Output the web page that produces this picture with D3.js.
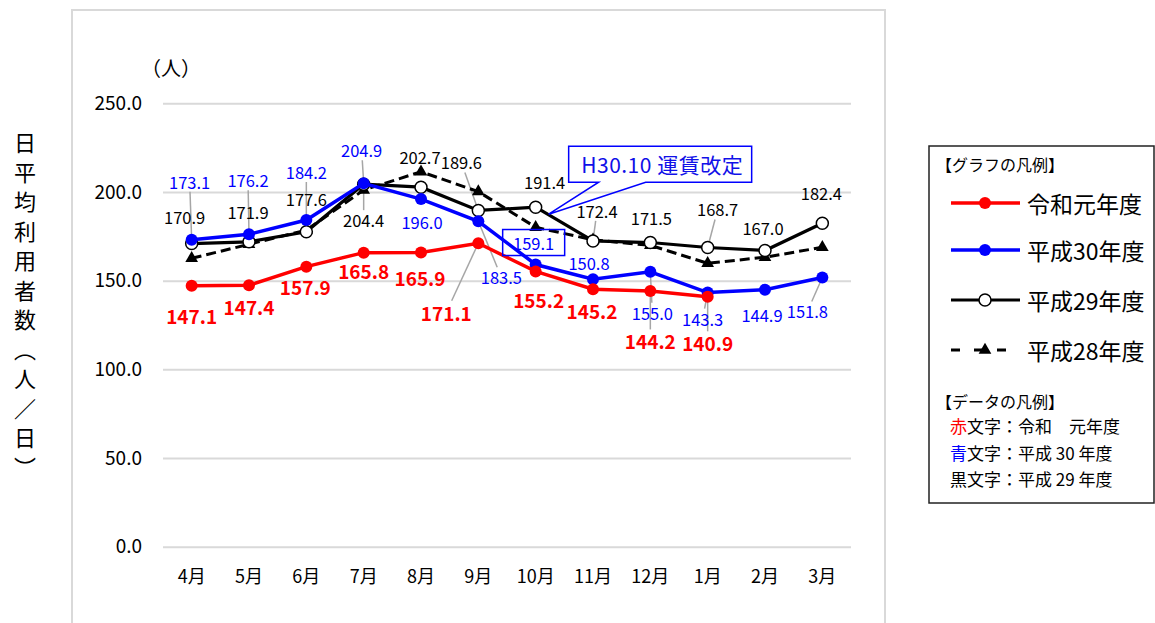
<!DOCTYPE html>
<html>
<head>
<meta charset="utf-8">
<script src="https://cdn.jsdelivr.net/npm/d3@7"></script>
<style>
    body { margin: 0; background: #fff; }
    svg text { font-family: "Noto Sans CJK JP", "Noto Sans", sans-serif; }
</style>
</head>
<body>
<div id="chart"></div>
<script>

// categories and values
const months = ["4月", "5月", "6月", "7月", "8月", "9月", "10月", "11月", "12月", "1月", "2月", "3月"];
const yTicks = [0, 50, 100, 150, 200, 250];

const valuesR1  = [147.1, 147.4, 157.9, 165.8, 165.9, 171.1, 155.2, 145.2, 144.2, 140.9];
const valuesH30 = [173.1, 176.2, 184.2, 204.9, 196.0, 183.5, 159.1, 150.8, 155.0, 143.3, 144.9, 151.8];
const valuesH29 = [170.9, 171.9, 177.6, 204.4, 202.7, 189.6, 191.4, 172.4, 171.5, 168.7, 167.0, 182.4];
const valuesH28 = [162.6, 170.5, 178.5, 201.1, 211.4, 200.2, 180.1, 173.0, 169.9, 159.8, 163.2, 168.8];

const seriesNames = ["令和元年度", "平成30年度", "平成29年度", "平成28年度"];
const noteText = "H30.10 運賃改定";
const yTitle = "日平均利用者数（人／日）";
const yUnit = "（人）";

// label placement (dx, dy from the point in px, leader line flag)
const offsetsR1  = [[0,30,0],[0,21,0],[-1,20,0],[0,18,0],[-1,25,0],[-32,69,1],[3,28,0],[-1,21,0],[0,50,1],[0,46,1]];
const offsetsH30 = [[-2,-58,1],[-1,-54,1],[0,-48,1],[-2,-33,1],[1,23,0],[23,56,1],[-2,-22,0],[-4,-16,0],[2,41,1],[-5,26,1],[-3,25,0],[-15,34,1]];
const offsetsH29 = [[-7,-27,0],[-1,-30,0],[0,-33,0],[0,36,1],[-1,-30,0],[-17,-48,1],[9,-25,0],[4,-30,1],[1,-25,0],[10,-38,1],[-2,-23,0],[-1,-30,0]];

var svgWidth = 1155, svgHeight = 623;
var plot = { left: 163, right: 851, top: 103.3, bottom: 546.7 };

var svg = d3.select("#chart").append("svg")
    .attr("width", svgWidth)
    .attr("height", svgHeight);

// outer chart frame
svg.append("rect")
    .attr("x", 72).attr("y", 10)
    .attr("width", 813).attr("height", 660)
    .attr("fill", "none")
    .attr("stroke", "#d9d9d9")
    .attr("stroke-width", 2);

var xscale = d3.scaleBand()
    .domain( months )
    .range( [plot.left, plot.right] );

var yscale = d3.scaleLinear()
    .domain( [0, 250] )
    .range( [plot.bottom, plot.top] );

var xc = i => xscale( months[i] ) + xscale.bandwidth() / 2;

// y axis with gridlines
var gY = svg.append("g")
    .attr("transform", "translate(" + plot.left + ",0)")
    .call( d3.axisLeft( yscale )
        .tickValues( yTicks )
        .tickFormat( d3.format(".1f") )
        .tickSize( -(plot.right - plot.left) )
        .tickPadding( 21 ) );
gY.select(".domain").remove();
gY.selectAll(".tick line")
    .attr("stroke", "#d9d9d9")
    .attr("stroke-width", 2);
gY.selectAll(".tick text")
    .attr("fill", "#000")
    .style("font-size", "19px")
    .style("font-family", "\"Noto Sans CJK JP\"");

var gX = svg.append("g")
    .attr("transform", "translate(0," + plot.bottom + ")")
    .call( d3.axisBottom( xscale ).tickSize( 0 ) );
gX.select(".domain").remove();
gX.selectAll(".tick text")
    .attr("y", 30)
    .attr("dy", "0.35em")
    .attr("fill", "#000")
    .style("font-size", "18px")
    .style("font-family", "\"Noto Sans CJK JP\"");

// axis titles
svg.append("text")
    .attr("x", 25)
    .attr("y", 132)
    .style("writing-mode", "vertical-rl")
    .style("font-size", "22px")
    .style("letter-spacing", "7.5px")
    .attr("fill", "#000")
    .text( yTitle );

svg.append("text")
    .attr("x", 171)
    .attr("y", 67)
    .attr("text-anchor", "middle")
    .attr("dominant-baseline", "central")
    .style("font-size", "20px")
    .attr("fill", "#000")
    .text( yUnit );

var gLeader = svg.append("g");
var gLines = svg.append("g");
var gLabels = svg.append("g");

var line = d3.line()
    .x( (d, i) => xc(i) )
    .y( d => yscale(d) );

var series = [
    { values: valuesH28, colour: "#000", width: 3, dash: "10,5", marker: "triangle" },
    { values: valuesH29, colour: "#000", width: 3.2, dash: null, marker: "open" },
    { values: valuesH30, colour: "#0000ff", width: 3.5, dash: null, marker: "dot" },
    { values: valuesR1,  colour: "#ff0000", width: 3.5, dash: null, marker: "dot" }
];

series.forEach( s => {
    var g = gLines.append("g");
    g.append("path")
        .datum( s.values )
        .attr("d", line)
        .attr("fill", "none")
        .attr("stroke", s.colour)
        .attr("stroke-width", s.width)
        .attr("stroke-dasharray", s.dash);
    drawMarkers( g, s );
});

function drawMarkers( g, s ) {
    if ( s.marker == "triangle" ) {
        g.selectAll(".tri")
            .data( s.values )
            .enter().append("path")
            .attr("d", d3.symbol( d3.symbolTriangle, 70 ))
            .attr("transform", (d, i) => "translate(" + xc(i) + "," + yscale(d) + ")")
            .attr("fill", "#000");
    } else {
        g.selectAll(".pt")
            .data( s.values )
            .enter().append("circle")
            .attr("cx", (d, i) => xc(i))
            .attr("cy", d => yscale(d))
            .attr("r", 6)
            .attr("fill", s.marker == "open" ? "#fff" : s.colour)
            .attr("stroke", s.colour)
            .attr("stroke-width", s.marker == "open" ? 1.5 : 0);
    }
}

// data labels with leader lines
function drawLabels( values, offsets, colour, size, weight ) {
    values.forEach( (v, i) => {
        var px = xc(i), py = yscale(v);
        var o = offsets[i];
        var t = gLabels.append("text")
            .attr("x", px + o[0])
            .attr("y", py + o[1])
            .attr("text-anchor", "middle")
            .attr("dominant-baseline", "central")
            .attr("fill", colour)
            .style("font-size", size + "px")
            .style("font-weight", weight)
            .text( v.toFixed(1) );
        if ( o[2] ) {
            var b = t.node().getBBox();
            var cx = b.x + b.width / 2, cy = b.y + b.height / 2;
            var dx = px - cx, dy = py - cy;
            var k = Math.min( (b.width / 2) / Math.abs(dx || 1e-6), (b.height / 2 - 2) / Math.abs(dy || 1e-6), 1 );
            gLeader.append("line")
                .attr("x1", cx + dx * k).attr("y1", cy + dy * k)
                .attr("x2", px).attr("y2", py)
                .attr("stroke", "#a6a6a6")
                .attr("stroke-width", 1.5);
        }
    });
}

drawLabels( valuesH29, offsetsH29, "#000", 16.5, "normal" );
drawLabels( valuesH30, offsetsH30, "#0000ff", 16.5, "normal" );
drawLabels( valuesR1, offsetsR1, "#ff0000", 19, "bold" );

// box round the October label of H30
var bx = xc(6) + offsetsH30[6][0], by = yscale( valuesH30[6] ) + offsetsH30[6][1];
gLabels.append("rect")
    .attr("x", bx - 31).attr("y", by - 13)
    .attr("width", 62).attr("height", 26)
    .attr("fill", "none")
    .attr("stroke", "#0000ff")
    .attr("stroke-width", 1.5);

// fare revision callout pointing at H29 October
var tipX = xc(6) + 13, tipY = yscale( valuesH29[6] ) + 7;
var boxL = tipX + 20, boxT = tipY - 68, boxW = 183, boxH = 36;
gLabels.append("rect")
    .attr("x", boxL).attr("y", boxT)
    .attr("width", boxW).attr("height", boxH)
    .attr("fill", "#fff");
gLabels.append("path")
    .attr("d", "M" + (boxL + 30) + "," + (boxT + boxH) + "H" + boxL + "V" + boxT + "H" + (boxL + boxW) +
        "V" + (boxT + boxH) + "H" + (boxL + 77) + "L" + tipX + "," + tipY + "Z")
    .attr("fill", "none")
    .attr("stroke", "#0000ff")
    .attr("stroke-width", 1.5);
gLabels.append("text")
    .attr("x", boxL + boxW / 2 + 2)
    .attr("y", boxT + boxH / 2)
    .attr("text-anchor", "middle")
    .attr("dominant-baseline", "central")
    .attr("fill", "#1010e8")
    .style("font-size", "21px")
    .style("letter-spacing", "0.5px")
    .text( noteText );

// legend
var lg = svg.append("g");
lg.append("rect")
    .attr("x", 929).attr("y", 146)
    .attr("width", 225).attr("height", 357)
    .attr("fill", "#fff")
    .attr("stroke", "#222")
    .attr("stroke-width", 1.5);

lg.append("text")
    .attr("x", 936).attr("y", 164)
    .attr("dominant-baseline", "central")
    .style("font-size", "16px")
    .text("【グラフの凡例】");

var legendRows = [203, 250, 300, 350];
var legendSeries = [ series[3], series[2], series[1], series[0] ];
legendSeries.forEach( (s, i) => {
    var ly = legendRows[i];
    var g = lg.append("g");
    if ( s.dash ) {
        g.append("line")
            .attr("x1", 951).attr("x2", 1008)
            .attr("y1", ly).attr("y2", ly)
            .attr("stroke", s.colour)
            .attr("stroke-width", s.width)
            .attr("stroke-dasharray", "9,14");
    } else {
        g.append("line")
            .attr("x1", 951).attr("x2", 1020)
            .attr("y1", ly).attr("y2", ly)
            .attr("stroke", s.colour)
            .attr("stroke-width", s.width);
    }
    if ( s.marker == "triangle" ) {
        g.append("path")
            .attr("d", d3.symbol( d3.symbolTriangle, 70 ))
            .attr("transform", "translate(985," + ly + ")")
            .attr("fill", "#000");
    } else {
        g.append("circle")
            .attr("cx", 985).attr("cy", ly)
            .attr("r", 6)
            .attr("fill", s.marker == "open" ? "#fff" : s.colour)
            .attr("stroke", s.colour)
            .attr("stroke-width", s.marker == "open" ? 1.5 : 0);
    }
    g.append("text")
        .attr("x", 1027).attr("y", ly)
        .attr("dominant-baseline", "central")
        .style("font-size", "23px")
        .text( seriesNames[i] );
});

lg.append("text")
    .attr("x", 936).attr("y", 401)
    .attr("dominant-baseline", "central")
    .style("font-size", "16px")
    .text("【データの凡例】");

var dataKey = [
    { mark: "赤", colour: "#ff0000", rest: "文字：令和　元年度" },
    { mark: "青", colour: "#0000ff", rest: "文字：平成 30 年度" },
    { mark: "黒", colour: "#000", rest: "文字：平成 29 年度" }
];
var dataRows = [425, 452, 478];
dataKey.forEach( (d, i) => {
    var t = lg.append("text")
        .attr("x", 950).attr("y", dataRows[i])
        .attr("dominant-baseline", "central")
        .style("font-size", "17px");
    t.append("tspan").attr("fill", d.colour).text( d.mark );
    t.append("tspan").attr("fill", "#000").text( d.rest );
});

</script>
</body>
</html>
